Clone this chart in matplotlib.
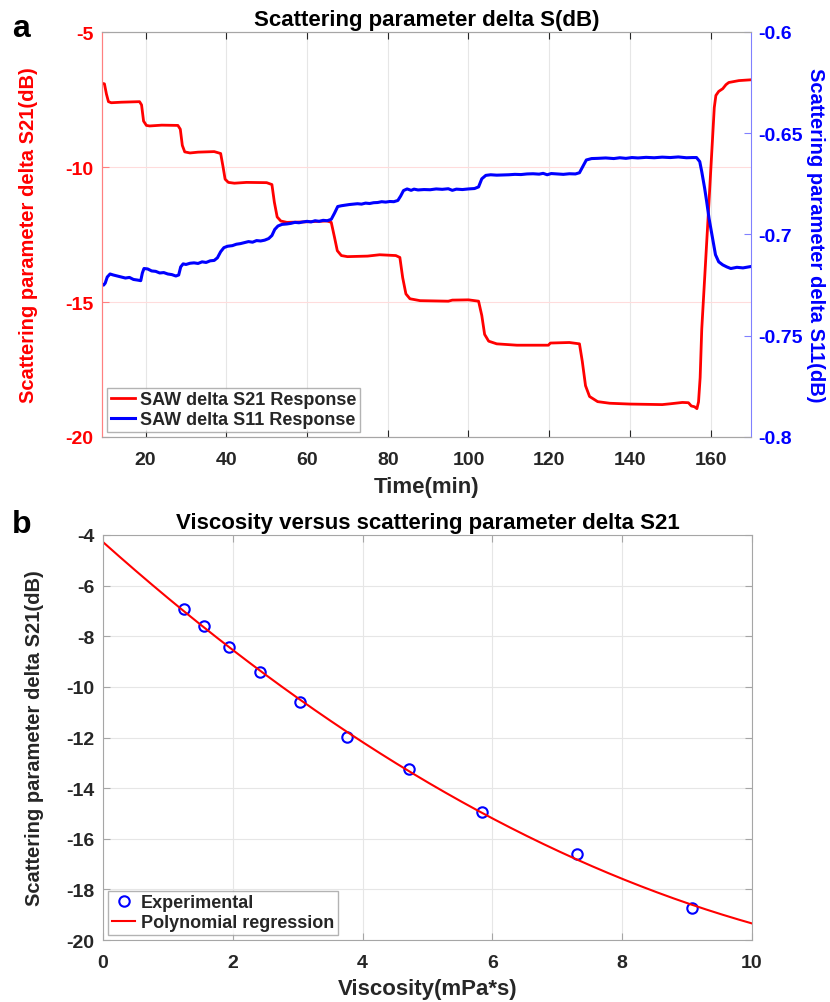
import numpy as np
import matplotlib
matplotlib.use("Agg")
import matplotlib.pyplot as plt

plt.rcParams['font.family'] = ['Liberation Sans', 'DejaVu Sans']
plt.rcParams['font.weight'] = 'bold'
plt.rcParams['axes.unicode_minus'] = False

# panel a: delta S21 (left axis)
t_s21 = [9.2, 9.8, 10.3, 10.8, 11.5, 14, 18.5, 19.0, 19.5, 20.2, 21, 24, 28, 28.6, 29.1, 29.7,
         31, 33, 37, 38.6, 39.2, 39.7, 40.5, 42, 45, 50, 51.3, 51.9, 52.6, 53.5, 55, 60, 65,
         66, 66.8, 67.5, 68.5, 70, 75, 78, 82, 83, 83.7, 84.5, 85.5, 88, 95, 96, 100, 102.5,
         103.3, 104, 105, 107, 112, 119.8, 120.3, 125, 127.5, 128.2, 129, 130, 132, 135, 140,
         148, 150, 153, 154.5, 155.2, 156.0, 156.6, 157.0, 157.4, 157.8, 159.4, 160.9, 161.3,
         162, 163, 163.8, 164.5, 167, 170]
s21 = [-6.9, -6.92, -7.3, -7.58, -7.62, -7.6, -7.58, -7.7, -8.3, -8.46, -8.48, -8.45, -8.46,
       -8.6, -9.2, -9.44, -9.48, -9.45, -9.43, -9.5, -10.0, -10.45, -10.57, -10.6, -10.57,
       -10.58, -10.65, -11.3, -11.85, -12.0, -12.05, -12.03, -12.0, -12.05, -12.6, -13.1,
       -13.28, -13.32, -13.3, -13.25, -13.28, -13.35, -14.1, -14.7, -14.88, -14.95, -14.97,
       -14.93, -14.92, -14.97, -15.5, -16.2, -16.45, -16.55, -16.6, -16.6, -16.52, -16.5,
       -16.55, -17.2, -18.1, -18.5, -18.69, -18.75, -18.78, -18.8, -18.77, -18.72, -18.73,
       -18.85, -18.88, -18.95, -18.7, -17.8, -16.0, -11.8, -7.8, -7.35, -7.2, -7.1, -6.95,
       -6.87, -6.8, -6.77]

# panel a: delta S11 (right axis)
t_s11 = [9.2, 9.6, 10.0, 10.5, 11.2, 12, 13, 14, 15, 16, 17, 18, 18.8, 19.2, 19.6, 20.5, 21.5,
         22.5, 23.5, 24.5, 25.5, 26.5, 27.5, 28.2, 28.7, 29.3, 30, 31, 32, 33, 34, 35, 36, 37,
         37.8, 38.6, 39.4, 40.3, 41.5, 42.5, 43.5, 44.5, 45.5, 46.5, 47.5, 48.5, 49.5, 50.5,
         51.3, 52, 52.8, 53.8, 55, 56, 57, 58, 59, 60, 61, 62, 63, 64, 65, 66, 66.8, 67.6,
         68.5, 69.5, 70.5, 71.5, 72.5, 73.5, 74.5, 75.5, 76.5, 77.5, 78.5, 79.5, 80.5, 81.5,
         82.5, 83.2, 83.9, 84.8, 85.8, 86.5, 87.5, 89, 90.5, 92, 93.5, 95, 96, 97, 98.5, 100,
         101.5, 102.5, 103.3, 104.3, 105.5, 107, 108.5, 110, 111.5, 113, 114.5, 116, 117.5,
         118.5, 119.5, 120.5, 122, 123.5, 125, 126.5, 127.5, 128.3, 129.2, 130.5, 132, 134,
         136, 137.5, 139, 140.5, 142, 144, 146, 148, 150, 152, 154, 155.5, 156.5, 157.3,
         157.8, 158.5, 159.0, 159.6, 160.3, 161.2, 162.0, 163.0, 164.0, 165, 166.5, 168, 170]
s11 = [-0.7245, -0.7250, -0.7240, -0.7210, -0.7195, -0.7200, -0.7205, -0.7210, -0.7215,
       -0.7212, -0.7222, -0.7225, -0.7228, -0.7190, -0.7168, -0.7170, -0.7180, -0.7182,
       -0.7190, -0.7188, -0.7195, -0.7198, -0.7205, -0.7200, -0.7160, -0.7145, -0.7148,
       -0.7142, -0.7140, -0.7143, -0.7135, -0.7138, -0.7130, -0.7128, -0.7115, -0.7085,
       -0.7065, -0.7058, -0.7055, -0.7048, -0.7045, -0.7040, -0.7035, -0.7038, -0.7030,
       -0.7032, -0.7028, -0.7020, -0.7005, -0.6975, -0.6958, -0.6950, -0.6948, -0.6945,
       -0.6940, -0.6942, -0.6938, -0.6935, -0.6938, -0.6932, -0.6935, -0.6930, -0.6932,
       -0.6925, -0.6895, -0.6862, -0.6858, -0.6855, -0.6852, -0.6850, -0.6848, -0.6850,
       -0.6845, -0.6847, -0.6843, -0.6842, -0.6838, -0.6840, -0.6837, -0.6838, -0.6832,
       -0.6810, -0.6783, -0.6775, -0.6782, -0.6776, -0.6780, -0.6778, -0.6779, -0.6775,
       -0.6777, -0.6774, -0.6782, -0.6776, -0.6778, -0.6775, -0.6773, -0.6765, -0.6725,
       -0.6708, -0.6705, -0.6707, -0.6706, -0.6705, -0.6703, -0.6704, -0.6701, -0.6700,
       -0.6702, -0.6698, -0.6705, -0.6699, -0.6701, -0.6703, -0.6700, -0.6701, -0.6695,
       -0.6665, -0.6632, -0.6625, -0.6624, -0.6622, -0.6625, -0.6621, -0.6624, -0.6620,
       -0.6622, -0.6619, -0.6621, -0.6618, -0.6620, -0.6617, -0.6621, -0.6620, -0.6620,
       -0.6640, -0.6690, -0.6770, -0.6835, -0.6920, -0.7000, -0.7100, -0.7135, -0.7150,
       -0.7160, -0.7168, -0.7162, -0.7165, -0.7158]

# panel b: viscosity vs S21
visc = [1.25, 1.56, 1.95, 2.42, 3.03, 3.76, 4.71, 5.84, 7.30, 9.07]
s21_exp = [-6.92, -7.58, -8.44, -9.43, -10.59, -11.98, -13.25, -14.93, -16.59, -18.74]

xt_a = [20, 40, 60, 80, 100, 120, 140, 160]
yt_left = [-5, -10, -15, -20]
yt_right = [-0.6, -0.65, -0.7, -0.75, -0.8]
yt_right_lbl = ['-0.6', '-0.65', '-0.7', '-0.75', '-0.8']
xt_b = [0, 2, 4, 6, 8, 10]
yt_b = [-4, -6, -8, -10, -12, -14, -16, -18, -20]

dark = '#262626'
edge = '#a6a6a6'
TICK = 14
TITLE = 16
XLAB = 16
YLAB = 14.5
LEG = 13

fig = plt.figure(figsize=(8.3, 10.03), dpi=100)

# ---- panel a ----
ax = fig.add_axes([102 / 830, 1 - 438 / 1003, 649 / 830, 405 / 1003])
ax2 = ax.twinx()
l1, = ax.plot(t_s21, s21, color='red', lw=2.0, label='SAW delta S21 Response')
l2, = ax2.plot(t_s11, s11, color='blue', lw=2.2, label='SAW delta S11 Response')

ax.set_xlim(9.2, 170)
ax.set_ylim(-20, -5)
ax2.set_ylim(-0.8, -0.6)
ax.set_xticks(xt_a)
ax.set_yticks(yt_left)
ax2.set_yticks(yt_right)
ax2.set_yticklabels(yt_right_lbl)

ax.grid(False)
for x in xt_a:
    ax.axvline(x, color='#e6e6e6', lw=0.8, zorder=0)
for y in yt_left:
    ax.axhline(y, color='#ffdcdc', lw=0.8, zorder=0)

ax.tick_params(axis='x', direction='in', top=True, length=5, colors=dark, labelsize=TICK, pad=10)
ax.tick_params(axis='y', direction='in', length=5, colors='#ff8080', labelcolor='red',
               labelsize=TICK, pad=6)
ax2.tick_params(axis='y', direction='in', length=5, colors='#8080ff', labelcolor='blue',
                labelsize=TICK, pad=5)
for lab in ax.get_xticklabels() + ax.get_yticklabels() + ax2.get_yticklabels():
    lab.set_fontweight('bold')

for sp in ['top', 'bottom']:
    ax.spines[sp].set_color(edge)
    ax2.spines[sp].set_color(edge)
ax.spines['left'].set_color('#ff8080')
ax2.spines['left'].set_color('#ff8080')
ax2.spines['right'].set_color('#8080ff')
ax.spines['right'].set_visible(False)

ax.set_title('Scattering parameter delta S(dB)', fontsize=TITLE, fontweight='bold', pad=5)
ax.set_xlabel('Time(min)', fontsize=XLAB, fontweight='bold', color=dark, labelpad=6)
ax.set_ylabel('Scattering parameter delta S21(dB)', fontsize=YLAB, fontweight='bold',
              color='red', labelpad=20)
ax2.set_ylabel('Scattering parameter delta S11(dB)', fontsize=YLAB, fontweight='bold',
               color='blue', rotation=270, labelpad=16)

leg = ax.legend([l1, l2], [l1.get_label(), l2.get_label()], loc='lower left',
                fontsize=LEG, frameon=True, fancybox=False, edgecolor='#a0a0a0',
                handlelength=1.3, handletextpad=0.3, borderpad=0.2, labelspacing=0.15,
                borderaxespad=0.3)
leg.get_frame().set_linewidth(1.0)
for txt in leg.get_texts():
    txt.set_fontweight('bold')
    txt.set_color(dark)

fig.text(12 / 830, 1 - 29 / 1003, 'a', fontsize=23, fontweight='bold', va='center')

# ---- panel b ----
bx = fig.add_axes([102.9 / 830, 1 - 941 / 1003, 649 / 830, 405 / 1003])
coef = np.polyfit(visc, s21_exp, 2)
xf = np.linspace(0, 10, 200)
bx.plot(visc, s21_exp, 'o', mfc='none', mec='blue', ms=7.5, mew=1.5, label='Experimental')
bx.plot(xf, np.polyval(coef, xf), color='red', lw=1.5, label='Polynomial regression')
bx.set_xlim(0, 10)
bx.set_ylim(-20, -4)
bx.set_xticks(xt_b)
bx.set_yticks(yt_b)
bx.grid(True, color='#e6e6e6', lw=0.8)
bx.set_axisbelow(True)
bx.tick_params(direction='in', top=True, right=True, length=5, colors=edge,
               labelcolor=dark, labelsize=TICK)
bx.tick_params(axis='x', pad=10)
bx.tick_params(axis='y', pad=6)
for lab in bx.get_xticklabels() + bx.get_yticklabels():
    lab.set_fontweight('bold')
for sp in bx.spines.values():
    sp.set_color(edge)
bx.set_title('Viscosity versus scattering parameter delta S21', fontsize=TITLE,
             fontweight='bold', pad=5)
bx.set_xlabel('Viscosity(mPa*s)', fontsize=XLAB, fontweight='bold', color=dark, labelpad=5)
bx.set_ylabel('Scattering parameter delta S21(dB)', fontsize=YLAB, fontweight='bold',
              color=dark, labelpad=16)
leg2 = bx.legend(loc='lower left', fontsize=LEG, frameon=True, fancybox=False,
                 edgecolor='#a0a0a0', handlelength=1.3, handletextpad=0.3,
                 borderpad=0.2, labelspacing=0.15, borderaxespad=0.3)
leg2.get_frame().set_linewidth(1.0)
for txt in leg2.get_texts():
    txt.set_fontweight('bold')
    txt.set_color(dark)

fig.text(12 / 830, 1 - 525 / 1003, 'b', fontsize=23, fontweight='bold', va='center')

fig.savefig('out.png', dpi=100)
